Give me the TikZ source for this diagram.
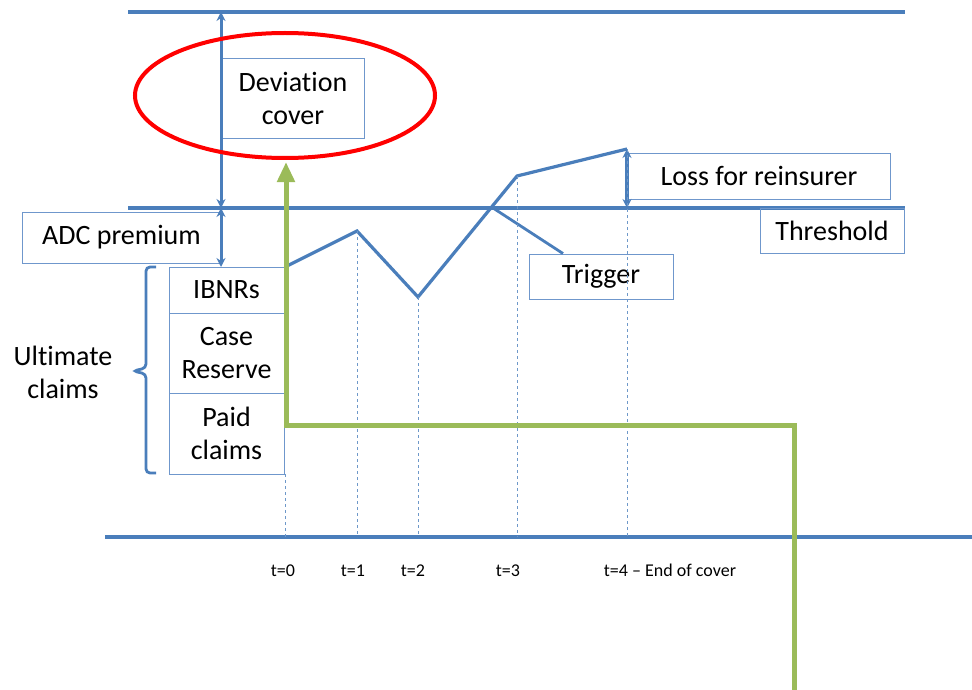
\documentclass[tikz,border=0pt]{standalone}
\usepackage{fontspec}
\setmainfont[Ligatures={NoCommon}]{Carlito}
\usetikzlibrary{arrows.meta,shapes.geometric}
\definecolor{myblue}{HTML}{4A7EBB}
\definecolor{boxblue}{HTML}{6F97CC}
\definecolor{mygreen}{HTML}{9BBB59}
\definecolor{myred}{HTML}{FF0000}
\begin{document}
\begin{tikzpicture}[x=1pt,y=-1pt,
  box/.style={draw=boxblue,line width=0.9pt,inner sep=0pt,align=center,text=black,font=\fontsize{28}{33}\selectfont},
  plain/.style={inner sep=0pt,align=center,text=black,font=\fontsize{28}{33}\selectfont},
  mainline/.style={draw=myblue,line width=3.2pt},
  guide/.style={draw=myblue!80,line width=0.8pt,dash pattern=on 3pt off 3pt},
  dbl/.style={draw=myblue,line width=3pt,{Stealth[length=9pt,width=9pt]}-{Stealth[length=9pt,width=9pt]}},
  tlab/.style={inner sep=0pt,anchor=base,text=black,font=\fontsize{18}{21}\selectfont},
  greenline/.style={draw=mygreen,line width=5pt,line join=miter,-{Triangle[length=20pt,width=17pt]}},
]
\useasboundingbox (0,0) rectangle (972,690);

% horizontal lines
\coordinate (topL) at (128,12);
\coordinate (topR) at (905,12);
\coordinate (thrL) at (128,208);
\coordinate (thrR) at (905,208);
\coordinate (axL) at (105,537);
\coordinate (axR) at (972,537);
\draw[mainline] (topL) -- (topR);
\draw[mainline] (thrL) -- (thrR);
\draw[mainline] (axL) -- (axR);

% boxes
\node[box,minimum width=142pt,minimum height=80pt] (dev) at (293,98) {Deviation\\cover};
\node[box,minimum width=199pt,minimum height=51pt] (adc) at (121.5,237.5) {ADC premium};
\node[box,minimum width=115pt,minimum height=46pt] (ibnr) at (226.5,290) {IBNRs};
\node[box,minimum width=115pt,minimum height=80pt] (case) at (226.5,353) {Case\\Reserve};
\node[box,minimum width=115pt,minimum height=81pt] (paid) at (226.5,433.5) {Paid\\claims};
\node[box,minimum width=262pt,minimum height=46pt] (loss) at (759,176) {Loss for reinsurer};
\node[box,minimum width=144pt,minimum height=45pt] (thr) at (832,230.5) {Threshold};
\node[box,minimum width=144pt,minimum height=45pt] (trig) at (601,276.5) {Trigger};
\node[plain] (ult) at (63,372) {Ultimate\\claims};

% brace
\coordinate (brT) at (156,267);
\coordinate (brB) at (156,473);
\coordinate (brM) at (133,371);
\draw[draw=myblue,line width=2.8pt,rounded corners=4pt]
  (brT) -- (146,267) -- (146,368) -- (brM) -- (146,374) -- (146,473) -- (brB);

% double arrows
\coordinate (a1t) at (221,12);
\coordinate (a1b) at (221,208);
\coordinate (a2b) at (221,267);
\draw[dbl] (a1t) -- (a1b);
\draw[dbl] (a1b) -- (a2b);

% claims path
\coordinate (p0) at (285,267);
\coordinate (p1) at (357,231);
\coordinate (p2) at (418,297);
\coordinate (p3) at (517,176);
\coordinate (p4) at (627,149);
\draw[mainline,line join=miter] (p0) -- (p1) -- (p2) -- (p3) -- (p4);

% loss arrow
\coordinate (lossb) at (627,208);
\draw[dbl,line width=3.2pt] (p4) -- (lossb);

% trigger pointer
\coordinate (trigpt) at (493,208);
\draw[mainline,line width=2.8pt] ([xshift=-38pt]trig.north) -- (trigpt);

% dashed guides
\coordinate (q0) at (285,474);
\draw[guide] (q0) -- (q0 |- axL);
\draw[guide] (p1) -- (p1 |- axL);
\draw[guide] (p2) -- (p2 |- axL);
\draw[guide] (p3) -- (p3 |- axL);
\draw[guide] (p4) -- (p4 |- axL);

% time labels
\node[tlab] (t0) at (283,576) {t=0};
\node[tlab] (t1) at (353,576) {t=1};
\node[tlab] (t2) at (413,576) {t=2};
\node[tlab] (t3) at (508,576) {t=3};
\node[tlab] (t4) at (670,576) {t=4 -- End of cover};

% red ellipse
\node[ellipse,draw=myred,line width=4pt,inner sep=0pt,minimum width=300pt,minimum height=125pt] (ell) at (285,95.5) {};

% green arrow
\coordinate (g0) at (794,690);
\coordinate (gc) at (286,425);
\draw[greenline] (g0) |- (gc) -- ([yshift=-2pt]ell.south -| gc);
\end{tikzpicture}
\end{document}
